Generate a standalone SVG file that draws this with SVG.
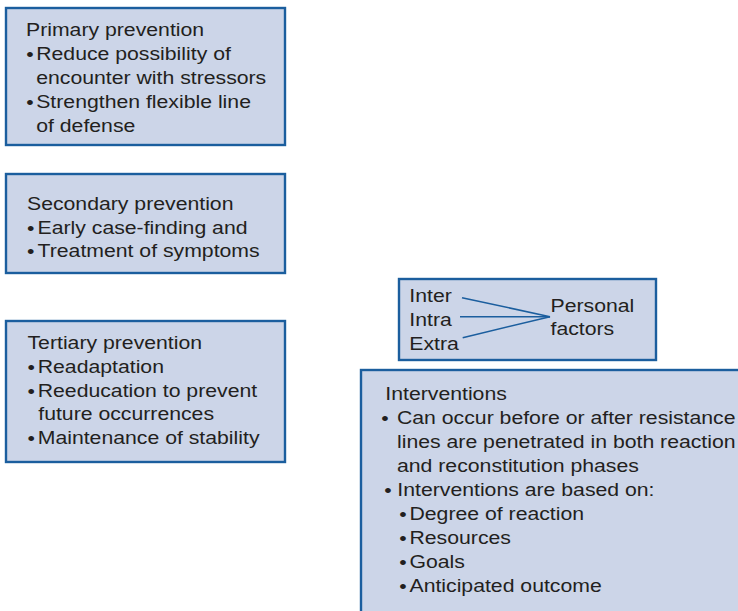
<svg xmlns="http://www.w3.org/2000/svg" width="738" height="611" viewBox="0 0 738 611">
  <defs>
    <style>
      .box { fill: #ccd5e8; stroke: #1b5e9e; stroke-width: 2.4; }
      .t { font-family: "Liberation Sans", Arial, Helvetica, sans-serif; font-size: 18.7px; fill: #231f20; }
      .b { font-size: 18.7px; }
      .link { stroke: #1b5e9e; stroke-width: 1.5; fill: none; }
    </style>
  </defs>
  <rect x="0" y="0" width="738" height="611" fill="#ffffff"/>

  <!-- Primary prevention -->
  <g id="primary">
    <rect class="box" x="6" y="8" width="279" height="137"/>
    <g class="t" transform="translate(26 0) scale(1.135 1)">
      <text x="0" y="36">Primary prevention</text>
      <text class="b" x="0.2" y="61">•</text>
      <text x="9" y="60">Reduce possibility of</text>
      <text x="9" y="84">encounter with stressors</text>
      <text class="b" x="0.2" y="109">•</text>
      <text x="9" y="108">Strengthen flexible line</text>
      <text x="9" y="132">of defense</text>
    </g>
  </g>

  <!-- Secondary prevention -->
  <g id="secondary">
    <rect class="box" x="6" y="174" width="279" height="99"/>
    <g class="t" transform="translate(27 0) scale(1.135 1)">
      <text x="0" y="210">Secondary prevention</text>
      <text class="b" x="0" y="235">•</text>
      <text x="9.3" y="234">Early case-finding and</text>
      <text class="b" x="0" y="258">•</text>
      <text x="9.3" y="257">Treatment of symptoms</text>
    </g>
  </g>

  <!-- Tertiary prevention -->
  <g id="tertiary">
    <rect class="box" x="6" y="321" width="279" height="141"/>
    <g class="t" transform="translate(27.5 0) scale(1.135 1)">
      <text x="0" y="349">Tertiary prevention</text>
      <text class="b" x="0" y="374">•</text>
      <text x="9" y="373">Readaptation</text>
      <text class="b" x="0" y="398">•</text>
      <text x="9" y="397">Reeducation to prevent</text>
      <text x="9.5" y="420">future occurrences</text>
      <text class="b" x="0" y="445">•</text>
      <text x="9" y="444">Maintenance of stability</text>
    </g>
  </g>

  <!-- Stressor sources feeding personal factors -->
  <g id="factors">
    <rect class="box" x="399" y="279" width="257" height="81"/>
    <g class="t" transform="translate(409.3 0) scale(1.135 1)">
      <text x="0" y="302">Inter</text>
      <text x="0" y="326">Intra</text>
      <text x="0" y="350">Extra</text>
    </g>
    <g class="t" transform="translate(550.5 0) scale(1.135 1)">
      <text x="0" y="312">Personal</text>
      <text x="0" y="335">factors</text>
    </g>
  </g>

  <g id="connectors">
    <line class="link" x1="462" y1="297.7" x2="550" y2="316.7"/>
    <line class="link" x1="460" y1="316.7" x2="550" y2="316.7"/>
    <line class="link" x1="462.7" y1="337.7" x2="550" y2="316.7"/>
  </g>

  <!-- Interventions -->
  <g id="interventions">
    <rect class="box" x="361" y="370" width="400" height="300"/>
    <g class="t" transform="translate(385.3 0) scale(1.135 1)">
      <text x="0" y="400">Interventions</text>
      <text class="b" x="-3.6" y="425">•</text>
      <text x="10.3" y="424">Can occur before or after resistance</text>
      <text x="10.3" y="448">lines are penetrated in both reaction</text>
      <text x="10.3" y="472">and reconstitution phases</text>
      <text class="b" x="-1" y="497">•</text>
      <text x="10.6" y="496">Interventions are based on:</text>
      <text class="b" x="12.2" y="521">•</text>
      <text x="21.3" y="520">Degree of reaction</text>
      <text class="b" x="12.2" y="545">•</text>
      <text x="21.3" y="544">Resources</text>
      <text class="b" x="12.2" y="569">•</text>
      <text x="21.3" y="568">Goals</text>
      <text class="b" x="12.2" y="593">•</text>
      <text x="21.3" y="592">Anticipated outcome</text>
    </g>
  </g>
</svg>
